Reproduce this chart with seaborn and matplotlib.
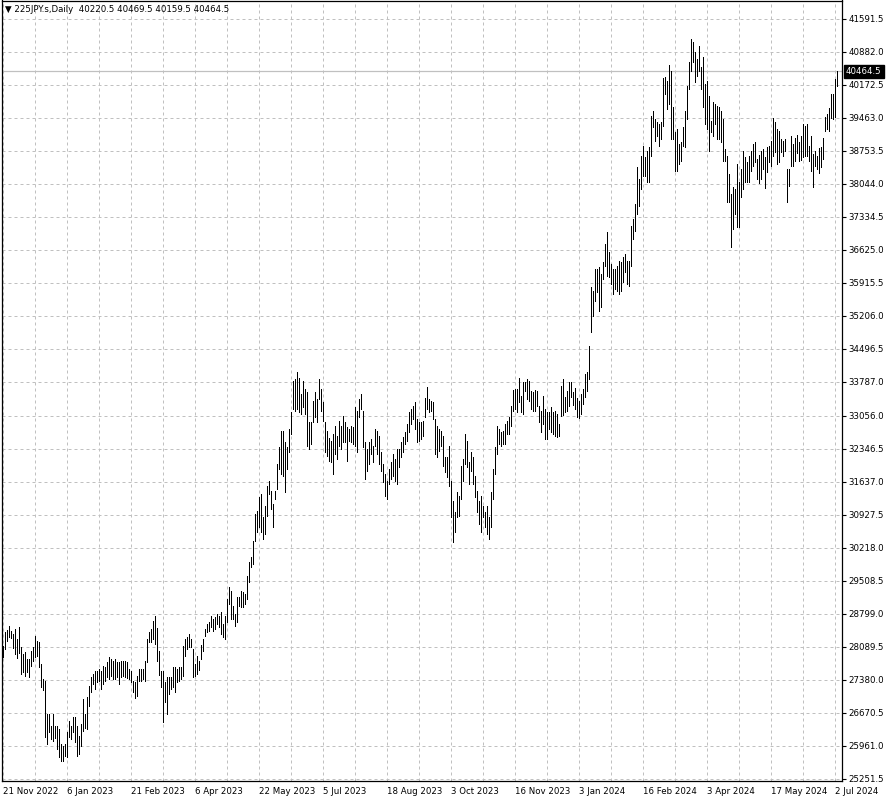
import pandas as pd
import matplotlib
matplotlib.use("Agg")
import matplotlib.pyplot as plt
import matplotlib.transforms as mtransforms
import seaborn as sns

symbol = "225JPY.s,Daily"
# open, high, low, close of the last (current) bar
last_ohlc = [40220.5, 40469.5, 40159.5, 40464.5]

# daily highs / lows, oldest first
highs = [
    28111, 28412, 28455, 28541, 28434, 28369, 28477, 28262, 28520, 28090,
    27939, 27982, 27832, 27832, 28004, 28090, 28326, 28219, 28197, 27724,
    27402, 27359, 26649, 26649, 26391, 26649, 26391, 26391, 26327, 26004,
    25961, 26004, 26262, 26499, 26391, 26585, 26585, 26391, 26176, 26434,
    26972, 26649, 27015, 27251, 27445, 27509, 27574, 27574, 27617, 27574,
    27681, 27660, 27767, 27875, 27832, 27789, 27832, 27767, 27767, 27789,
    27789, 27789, 27767, 27617, 27574, 27359, 27337, 27466, 27617, 27617,
    27617, 27789, 28262, 28412, 28477, 28649, 28756, 28498, 28004, 27574,
    27574, 27337, 27445, 27445, 27445, 27660, 27660, 27617, 27660, 27660,
    28111, 28262, 28305, 28369, 28262, 28047, 27724, 27896, 27789, 28133,
    28262, 28477, 28584, 28627, 28756, 28692, 28735, 28799, 28756, 28842,
    28584, 28756, 29122, 29380, 29294, 28971, 28799, 29165, 29165, 29294,
    29272, 29229, 29616, 29917, 30025, 30369, 30949, 31014, 31315, 31379,
    30885, 31121, 31551, 31659, 31444, 31164, 31444, 32024, 32390, 32734,
    32734, 32497, 32390, 32777, 33142, 33809, 33852, 34002, 33873, 33529,
    33809, 33637, 33572, 32927, 32927, 33379, 33572, 33422, 33852, 33637,
    33357, 32927, 32734, 32583, 32519, 32669, 32841, 32626, 32949, 32841,
    33056, 32927, 32820, 32777, 32841, 32820, 33250, 33164, 33422, 33529,
    33164, 32497, 32347, 32497, 32562, 32411, 32777, 32734, 32626, 32282,
    32024, 31809, 31659, 31917, 32067, 32239, 32132, 32347, 32347, 32497,
    32605, 32712, 32884, 33142, 33207, 33271, 33357, 32992, 32927, 32927,
    32949, 33443, 33680, 33422, 33379, 33357, 32992, 32841, 32777, 32734,
    32626, 32175, 32175, 32411, 31659, 31229, 30992, 31422, 31336, 31981,
    32132, 32669, 32519, 32067, 32282, 32175, 31766, 31444, 31229, 31336,
    31121, 30992, 31121, 30885, 31422, 31917, 32390, 32841, 32777, 32712,
    32734, 32884, 32949, 33035, 33271, 33615, 33637, 33637, 33873, 33486,
    33787, 33787, 33852, 33809, 33594, 33572, 33615, 33594, 33271, 33164,
    33486, 33207, 33142, 33142, 33250, 33142, 33164, 33099, 32884, 33701,
    33852, 33465, 33594, 33787, 33787, 33572, 33658, 33443, 33379, 33529,
    33637, 33959, 34002, 34561, 35830, 35744, 36217, 36217, 36260, 36109,
    36367, 36754, 37012, 36582, 36324, 36217, 36217, 36281, 36389, 36367,
    36475, 36539, 36389, 36389, 37141, 37292, 37614, 38410, 38152, 38646,
    38861, 38625, 38754, 38840, 39506, 39614, 39442, 39377, 39334, 39377,
    40323, 40345, 40259, 40603, 40474, 39700, 39162, 39227, 38904, 38947,
    39270, 39614, 40151, 40667, 41162, 41097, 40882, 40732, 41011, 40560,
    40775, 40194, 40259, 39936, 39399, 39807, 39764, 39721, 39700, 39614,
    39442, 38797, 38646, 38259, 37829, 37980, 37937, 38474, 38087, 38367,
    38754, 38625, 38517, 38646, 38754, 38904, 38947, 38582, 38668, 38754,
    38797, 38625, 38840, 38861, 38969, 39463, 39377, 39227, 39184, 39012,
    38969, 39012, 38367, 38367, 39076, 38904, 39033, 39098, 38947, 39076,
    39334, 39291, 39334, 38861, 39076, 38689, 38754, 38646, 38818, 38840,
    39033, 39485, 39549, 39678, 39979, 39979, 40302,
]
lows = [
    27875, 28047, 28219, 28305, 28283, 28068, 27939, 27853, 27961, 27509,
    27552, 27466, 27552, 27445, 27681, 27789, 27875, 27896, 27660, 27230,
    27165, 26155, 26004, 26262, 26112, 26069, 26133, 25897, 25725, 25639,
    25639, 25746, 25725, 26155, 26112, 26262, 26047, 25746, 25789, 25961,
    26284, 26348, 26327, 26821, 27122, 27294, 27187, 27337, 27359, 27187,
    27294, 27359, 27445, 27402, 27466, 27402, 27402, 27445, 27294, 27445,
    27466, 27445, 27423, 27402, 27337, 27122, 26993, 27036, 27359, 27359,
    27402, 27359, 27767, 28197, 28197, 28262, 28154, 27789, 27488, 27230,
    26477, 26907, 26649, 27079, 27187, 27230, 27122, 27337, 27359, 27402,
    27466, 27896, 28047, 28090, 28090, 27445, 27466, 27509, 27595, 27832,
    28004, 28326, 28412, 28434, 28520, 28434, 28477, 28584, 28520, 28369,
    28305, 28262, 28627, 29014, 28692, 28692, 28541, 28627, 28971, 28950,
    28950, 29014, 29122, 29487, 29810, 29874, 30369, 30562, 30670, 30562,
    30412, 30519, 30906, 31379, 31057, 30670, 31272, 31487, 31917, 31809,
    31766, 31422, 31917, 32282, 32669, 33207, 33164, 33207, 33142, 33099,
    33250, 33099, 32411, 32347, 32454, 32927, 33035, 32927, 33422, 33164,
    32949, 32282, 32196, 32089, 32067, 31809, 32239, 32132, 32411, 32347,
    32497, 32497, 32089, 32519, 32497, 32454, 32411, 32282, 33035, 33207,
    32390, 31702, 31874, 32024, 32239, 32067, 32411, 32239, 32024, 31874,
    31637, 31336, 31272, 31594, 31702, 31766, 31659, 31594, 31960, 32175,
    32282, 32454, 32519, 32712, 32884, 32992, 32777, 32497, 32519, 32562,
    32626, 33035, 33207, 33142, 33164, 32992, 32239, 32175, 32304, 32411,
    31981, 31852, 31745, 31551, 30885, 30347, 30562, 30885, 30906, 31272,
    31659, 32024, 31960, 31594, 31874, 31594, 31315, 30992, 30734, 30562,
    30885, 30670, 30519, 30412, 30670, 31272, 31809, 32239, 32454, 32411,
    32454, 32454, 32669, 32669, 32841, 33164, 33207, 33142, 33357, 33142,
    33099, 33594, 33422, 33379, 33207, 33164, 33164, 33271, 32927, 32712,
    32884, 32562, 32562, 32777, 32712, 32669, 32626, 32605, 32626, 33056,
    33078, 33142, 33164, 33271, 33465, 33293, 33207, 33035, 33013, 33099,
    33314, 33465, 33594, 33852, 34862, 35206, 35529, 35722, 35314, 35400,
    36002, 36281, 36066, 36045, 35894, 35679, 35787, 35744, 35679, 35744,
    35937, 36152, 35894, 35851, 36281, 36862, 37034, 37399, 37571, 37937,
    38216, 38216, 38087, 38087, 38646, 39270, 38969, 39076, 38861, 39012,
    39291, 39979, 39657, 39764, 39012, 39012, 38324, 38324, 38474, 38539,
    38861, 38840, 39442, 40087, 40474, 40667, 40237, 40366, 40474, 40087,
    39700, 39334, 39227, 38754, 39162, 39076, 39334, 39012, 39012, 38947,
    38539, 38539, 37657, 37657, 36690, 37077, 37399, 37120, 37120, 37765,
    37937, 38087, 38087, 38087, 38324, 38431, 38517, 38152, 38066, 38152,
    38367, 37958, 38302, 38517, 38431, 38646, 38732, 38474, 38517, 38732,
    38646, 38754, 37657, 38001, 38431, 38431, 38539, 38711, 38539, 38560,
    38625, 38646, 38646, 38539, 38324, 37980, 38431, 38367, 38281, 38410,
    38582, 39184, 39227, 39184, 39463, 39442, 39485,
]

date_labels = ["21 Nov 2022", "6 Jan 2023", "21 Feb 2023", "6 Apr 2023",
               "22 May 2023", "5 Jul 2023", "18 Aug 2023", "3 Oct 2023",
               "16 Nov 2023", "3 Jan 2024", "16 Feb 2024", "3 Apr 2024",
               "17 May 2024", "2 Jul 2024"]
price_ticks = [41591.5, 40882.0, 40172.5, 39463.0, 38753.5, 38044.0, 37334.5,
               36625.0, 35915.5, 35206.0, 34496.5, 33787.0, 33056.0, 32346.5,
               31637.0, 30927.5, 30218.0, 29508.5, 28799.0, 28089.5, 27380.0,
               26670.5, 25961.0, 25251.5]

# add the current bar
highs = highs + [last_ohlc[1]]
lows = lows + [last_ohlc[2]]
n = len(highs)

# two rows per bar (low and high) -> one vertical segment per unit
bars = pd.DataFrame({
    "bar": list(range(n)) * 2,
    "price": lows + highs,
})

sns.set_style("white", {"text.color": "black", "xtick.color": "black",
                        "ytick.color": "black", "axes.edgecolor": "black"})
plt.rcParams["font.family"] = ["DejaVu Sans"]

W, H = 888, 802
fig = plt.figure(figsize=(W / 100, H / 100), dpi=100)
ax = fig.add_axes([2 / W, 21 / H, 840 / W, 780.5 / H])

grid_kw = dict(color="#c0c0c0", linewidth=0.72, linestyle=(0, (3, 3)))

sns.lineplot(data=bars, x="bar", y="price", units="bar", estimator=None,
             color="black", linewidth=0.55, antialiased=False, ax=ax,
             legend=False, zorder=3)

# current price line
ax.axhline(last_ohlc[3], color="#c0c0c0", linewidth=0.9, zorder=2)

ax.set_xlim(-0.6, 419.4)
ax.set_ylim(25208.5, 41989.0)
ax.set_xlabel("")
ax.set_ylabel("")

# x axis: labels every 32 bars, grid every 16
ax.set_xticks(range(0, 32 * len(date_labels), 32))
ax.set_xticklabels(date_labels, ha="left")
ax.set_xticks(range(16, 420, 32), minor=True)
ax.tick_params(axis="x", which="major", direction="out", length=3,
               width=0.8, pad=1.5, labelsize=6.2, color="black",
               labelcolor="black")
ax.tick_params(axis="x", which="minor", length=0)

# y axis on the right
ax.yaxis.tick_right()
ax.set_yticks(price_ticks)
ax.set_yticklabels([f"{v:.1f}" for v in price_ticks])
ax.tick_params(axis="y", direction="out", length=3, width=0.8, pad=1.5,
               labelsize=6.2, color="black", labelcolor="black")

ax.grid(which="both", axis="x", **grid_kw)
ax.grid(which="major", axis="y", **grid_kw)
ax.set_axisbelow(True)

for s in ax.spines.values():
    s.set_visible(True)
    s.set_color("black")
    s.set_linewidth(0.9)

# current price tag on the price scale
trans = mtransforms.blended_transform_factory(ax.transAxes, ax.transData)
ax.text(1.0045, last_ohlc[3], f"{last_ohlc[3]:.1f}", transform=trans,
        ha="left", va="center", color="white", fontsize=6.2, zorder=5,
        bbox=dict(boxstyle="square,pad=0.25", fc="black", ec="black"),
        clip_on=False)

# header line
header = "\u25bc " + symbol + "  " + " ".join(f"{v:.1f}" for v in last_ohlc)
fig.text(5 / W, 1 - 10 / H, header, fontsize=6.2, va="center", ha="left",
         color="black")

fig.savefig("out.png", dpi=100)
